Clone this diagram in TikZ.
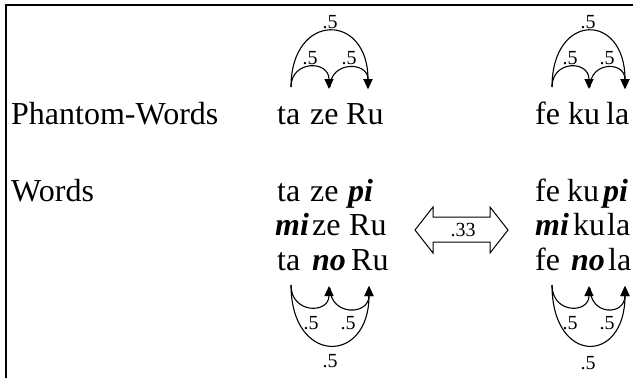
\documentclass[tikz,border=0pt]{standalone}
\usepackage{fontspec}
\setmainfont{Liberation Serif}
\usetikzlibrary{arrows.meta}
\newcommand{\bi}[1]{\textbf{\textit{#1}}}
\begin{document}
\begin{tikzpicture}[x=1pt,y=-1pt,
  word/.style={anchor=base west, inner sep=0pt, font=\fontsize{32}{36}\selectfont},
  lab/.style={inner sep=0pt, font=\fontsize{20}{22}\selectfont},
  arcline/.style={line width=1.1pt},
  tipped/.style={arcline, -{Triangle[length=10pt,width=9pt]}},
  frameline/.style={line width=1.4pt}]
\useasboundingbox (0,0) rectangle (638,378);
% frame
\coordinate (fbl) at (6,378);
\coordinate (ftl) at (6,5);
\coordinate (ftr) at (633,5);
\draw[frameline] (fbl) -- (ftl) -- (ftr);
% row headings
\node[word] (hp) at (11,124) {Phantom-Words};
\node[word] (hw) at (11,201) {Words};
% phantom words, left
\node[word] (p1a) at (277,124) {ta};
\node[word] (p1b) at (310,124) {ze};
\node[word] (p1c) at (346,124) {Ru};
% phantom words, right
\node[word] (p2a) at (535,124) {fe};
\node[word] (p2b) at (568,124) {ku};
\node[word] (p2c) at (606,124) {la};
% words, left
\node[word] (l1a) at (277,201) {ta};
\node[word] (l1b) at (310,201) {ze};
\node[word] (l1c) at (348,201) {\bi{pi}};
\node[word] (l2a) at (275,235) {\bi{mi}};
\node[word] (l2b) at (312,235) {ze};
\node[word] (l2c) at (349,235) {Ru};
\node[word] (l3a) at (277,270) {ta};
\node[word] (l3b) at (312,270) {\bi{no}};
\node[word] (l3c) at (351,270) {Ru};
% words, right
\node[word] (r1a) at (535,201) {fe};
\node[word] (r1b) at (567,201) {ku};
\node[word] (r1c) at (603,201) {\bi{pi}};
\node[word] (r2a) at (535,235) {\bi{mi}};
\node[word] (r2b) at (573,235) {ku};
\node[word] (r2c) at (607,235) {la};
\node[word] (r3a) at (535,270) {fe};
\node[word] (r3b) at (571,270) {\bi{no}};
\node[word] (r3c) at (608,270) {la};
% double arrow
\node[lab] (w33) at (463,230) {.33};
\draw[line width=1pt] (415,230) -- (433,207) -- (433,217) -- (490,217) -- (490,207)
  -- (508,230) -- (490,253) -- (490,242) -- (433,242) -- (433,253) -- cycle;
% top arcs, left
\coordinate (tl0) at (291,87);
\coordinate (tl1) at (329,89);
\coordinate (tl1s) at (330,87);
\coordinate (tl2) at (368,89);
\draw[tipped] (tl0) .. controls (291,12) and (368,12) .. (tl2);
\draw[tipped] (tl0) .. controls (291,60) and (329,60) .. (tl1);
\draw[tipped] (tl1s) .. controls (330,61) and (368,61) .. (tl2);
\node[lab] (tlb) at (330,22) {.5};
\node[lab] (tls1) at (310,58) {.5};
\node[lab] (tls2) at (349,58) {.5};
% top arcs, right
\coordinate (tr0) at (552,87);
\coordinate (tr1) at (589,89);
\coordinate (tr1s) at (590,87);
\coordinate (tr2) at (625,89);
\draw[tipped] (tr0) .. controls (552,12) and (625,12) .. (tr2);
\draw[tipped] (tr0) .. controls (552,60) and (589,60) .. (tr1);
\draw[tipped] (tr1s) .. controls (590,61) and (625,61) .. (tr2);
\node[lab] (trb) at (588,22) {.5};
\node[lab] (trs1) at (570,58) {.5};
\node[lab] (trs2) at (607,58) {.5};
% bottom arcs, left
\coordinate (bl0) at (291,285);
\coordinate (bl1) at (329,286);
\coordinate (bl1s) at (330,288);
\coordinate (bl2) at (369,286);
\draw[tipped] (bl0) .. controls (291,365) and (369,365) .. (bl2);
\draw[tipped] (bl0) .. controls (291,314) and (329,314) .. (bl1);
\draw[tipped] (bl1s) .. controls (330,316) and (369,316) .. (bl2);
\node[lab] (blb) at (330,361) {.5};
\node[lab] (bls1) at (311,323) {.5};
\node[lab] (bls2) at (348,323) {.5};
% bottom arcs, right
\coordinate (br0) at (552,285);
\coordinate (br1) at (589,286);
\coordinate (br1s) at (590,288);
\coordinate (br2) at (625,286);
\draw[tipped] (br0) .. controls (552,365) and (625,365) .. (br2);
\draw[tipped] (br0) .. controls (552,314) and (589,314) .. (br1);
\draw[tipped] (br1s) .. controls (590,316) and (625,316) .. (br2);
\node[lab] (brb) at (588,363) {.5};
\node[lab] (brs1) at (570,323) {.5};
\node[lab] (brs2) at (607,323) {.5};
\end{tikzpicture}
\end{document}
